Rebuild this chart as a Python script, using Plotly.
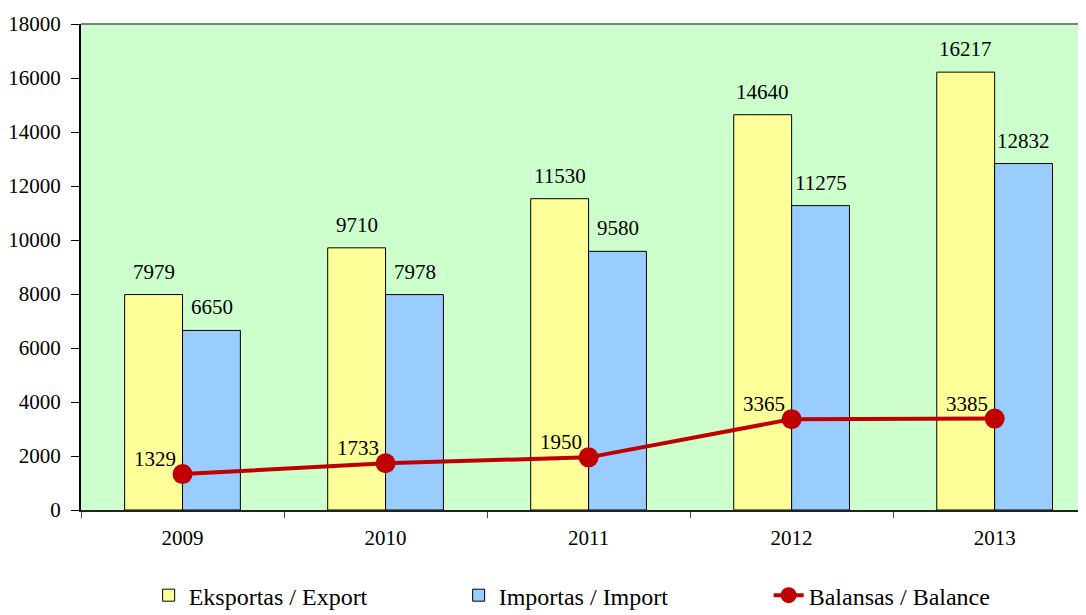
import plotly.graph_objects as go

years = ["2009", "2010", "2011", "2012", "2013"]
export_vals = [7979, 9710, 11530, 14640, 16217]
import_vals = [6650, 7978, 9580, 11275, 12832]
balance_vals = [1329, 1733, 1950, 3365, 3385]

FONT = "Liberation Serif, DejaVu Serif, serif"

fig = go.Figure()
fig.add_trace(go.Bar(
    x=years, y=export_vals, name="Eksportas / Export",
    marker=dict(color="#FFFF99", line=dict(color="#000000", width=1)),
))
fig.add_trace(go.Bar(
    x=years, y=import_vals, name="Importas / Import",
    marker=dict(color="#99CCFF", line=dict(color="#000000", width=1)),
))
fig.add_trace(go.Scatter(
    x=years, y=balance_vals, name="Balansas / Balance",
    mode="lines+markers",
    line=dict(color="#C00000", width=4),
    marker=dict(color="#C00000", size=20),
))

annotations = []
for i, v in enumerate(export_vals):
    annotations.append(dict(x=i, y=v, xref="x", yref="y", text=str(v), showarrow=False,
                            xshift=-29, yshift=23, font=dict(family=FONT, size=21, color="#000")))
for i, v in enumerate(import_vals):
    annotations.append(dict(x=i, y=v, xref="x", yref="y", text=str(v), showarrow=False,
                            xshift=29, yshift=23, font=dict(family=FONT, size=21, color="#000")))
for i, v in enumerate(balance_vals):
    annotations.append(dict(x=i, y=v, xref="x", yref="y", text=str(v), showarrow=False,
                            xshift=-28, yshift=15, font=dict(family=FONT, size=21, color="#000")))

fig.update_layout(
    width=1078, height=607,
    margin=dict(l=73, r=0, t=16, b=105, autoexpand=False),
    paper_bgcolor="white",
    plot_bgcolor="#CCFFCC",
    barmode="group",
    bargap=0.43,
    bargroupgap=0,
    font=dict(family=FONT, size=21, color="#000"),
    showlegend=True,
    legend=dict(orientation="h", x=0.53, xanchor="center", yref="container", y=0.032, yanchor="middle",
                font=dict(family=FONT, size=24, color="#000"), entrywidth=265,
                traceorder="normal"),
    annotations=annotations,
    shapes=[dict(type="line", xref="paper", yref="paper", x0=0, x1=1, y0=1, y1=1,
                 line=dict(color="#808080", width=2))],
)
fig.update_xaxes(
    type="category", range=[-0.5, 4.45],
    showline=True, linecolor="#222222", linewidth=2,
    ticks="outside", tickson="boundaries", ticklen=6, tickcolor="#444",
    ticklabelstandoff=8,
    showgrid=False, tickfont=dict(family=FONT, size=21),
)
fig.update_yaxes(
    range=[0, 18000], dtick=2000, tickformat="d",
    showline=True, linecolor="#000000", linewidth=2,
    ticks="outside", ticklen=8, tickcolor="#000",
    ticklabelstandoff=6,
    showgrid=False, zeroline=False, tickfont=dict(family=FONT, size=21),
)

fig.write_html("out.html")
